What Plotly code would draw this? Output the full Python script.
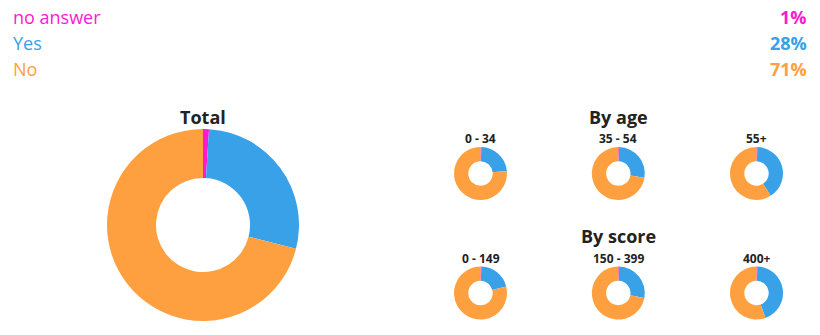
import plotly.graph_objects as go

W, H = 820, 335

answers = ["no answer", "Yes", "No"]
colors = ["#ff19d2", "#38a1e8", "#ffa040"]
total_values = [1, 28, 71]

age_groups = ["0 - 34", "35 - 54", "55+"]
age_values = [[0.5, 23, 76.5], [0.5, 27, 72.5], [0.5, 40.5, 59]]

score_groups = ["0 - 149", "150 - 399", "400+"]
score_values = [[0.5, 20.5, 79], [0.5, 27.5, 72], [0.5, 44, 55.5]]

FONT = "Open Sans"


def px_domain(cx, cy, r):
    return dict(x=[(cx - r) / W, (cx + r) / W], y=[1 - (cy + r) / H, 1 - (cy - r) / H])


fig = go.Figure()


def add_pie(vals, cx, cy, r, hole):
    fig.add_trace(go.Pie(
        labels=answers, values=vals, sort=False, direction="clockwise", rotation=0,
        hole=hole, marker=dict(colors=colors, line=dict(width=0)),
        textinfo="none", hoverinfo="label+percent", showlegend=False,
        domain=px_domain(cx, cy, r),
    ))


add_pie(total_values, 203, 225, 96, 0.49)

cols = [480.5, 618.3, 756.5]
for i, v in enumerate(age_values):
    add_pie(v, cols[i], 173.5, 26.5, 0.46)
for i, v in enumerate(score_values):
    add_pie(v, cols[i], 293, 26.5, 0.46)

ann = []


def text(x, y, s, size, color, bold=False, xanchor="center"):
    ann.append(dict(
        x=x / W, y=1 - y / H, xref="paper", yref="paper", text=f"<b>{s}</b>" if bold else s,
        showarrow=False, xanchor=xanchor, yanchor="middle",
        font=dict(family=FONT, size=size, color=color),
    ))


pcts = [f"{round(v)}%" for v in total_values]
for i, (lab, c) in enumerate(zip(answers, colors)):
    y = 17 + 26 * i
    text(11, y, lab, 18, c, xanchor="left")
    text(809, y, pcts[i], 18, c, bold=True, xanchor="right")

text(203, 117, "Total", 18, "#222222", bold=True)
text(618, 117, "By age", 18, "#222222", bold=True)
text(618, 236, "By score", 18, "#222222", bold=True)
for i, g in enumerate(age_groups):
    text(cols[i], 139, g, 12, "#222222", bold=True)
for i, g in enumerate(score_groups):
    text(cols[i], 258, g, 12, "#222222", bold=True)

fig.update_layout(
    width=W, height=H, margin=dict(l=0, r=0, t=0, b=0),
    paper_bgcolor="white", plot_bgcolor="white",
    annotations=ann, font=dict(family=FONT),
)

fig.write_html("out.html")
